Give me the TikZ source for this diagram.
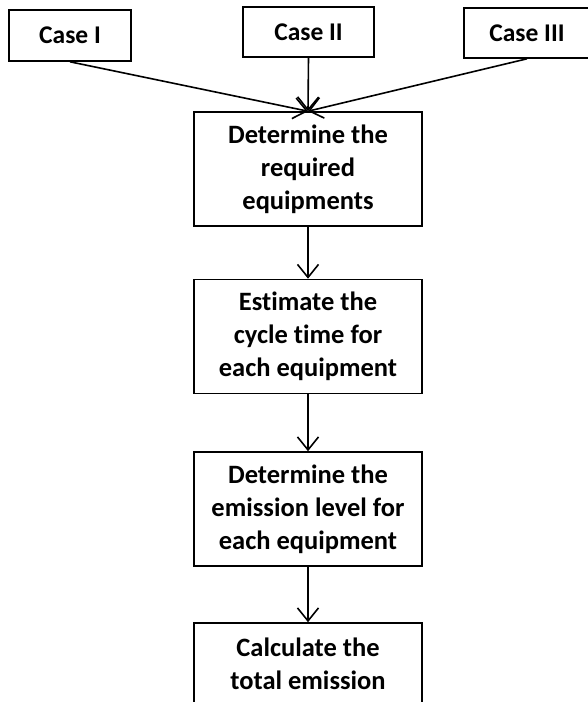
\documentclass[tikz,border=0pt]{standalone}
\usepackage{fontspec}
\setmainfont[Ligatures=NoCommon]{Carlito}
\usetikzlibrary{arrows.meta}
\begin{document}
\begin{tikzpicture}[x=1pt,y=-1pt,
  boxstyle/.style={draw=black,line width=1.6pt,rectangle,inner sep=0pt,align=center,
    font=\fontsize{26.5}{33}\selectfont\bfseries},
  casebox/.style={boxstyle,minimum height=50pt,font=\fontsize{25.5}{33}\selectfont\bfseries},
  stepbox/.style={boxstyle,minimum width=228pt,minimum height=114pt},
  conn/.style={line width=1.6pt,-{Straight Barb[length=13pt,width=21pt,line width=1.6pt]}}]
\useasboundingbox (0,0) rectangle (587,702);
\fill[white] (0,0) rectangle (587,702);
\node[casebox,minimum width=122pt,minimum height=51pt] (c1) at (70,35.5) {Case I};
\node[casebox,minimum width=131pt] (c2) at (308.5,32) {Case II};
\node[casebox,minimum width=126pt] (c3) at (527,33) {Case III};
\node[stepbox] (b1) at (308,169) {Determine the\\required\\equipments};
\node[stepbox] (b2) at (308,336.5) {Estimate the\\cycle time for\\each equipment};
\node[stepbox] (b3) at (308,509) {Determine the\\emission level for\\each equipment};
\node[stepbox] (b4) at (308,680) {Calculate the\\total emission\\\mbox{}};
\draw[conn] (c1.south) -- (b1.north);
\draw[conn] (c2.south) -- (b1.north);
\draw[conn] (c3.south) -- (b1.north);
\draw[conn] (b1.south) -- (b2.north);
\draw[conn] (b2.south) -- (b3.north);
\draw[conn] (b3.south) -- (b4.north);
\end{tikzpicture}
\end{document}
